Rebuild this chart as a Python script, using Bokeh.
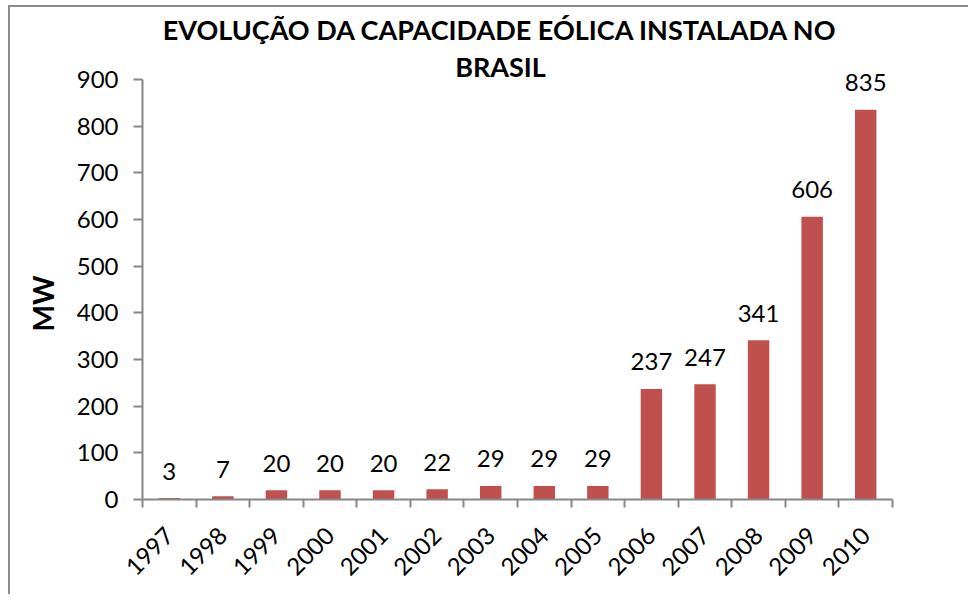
import math
from bokeh.plotting import figure
from bokeh.models import FixedTicker, Label, ColumnDataSource, Range1d, Title
from bokeh.core.properties import value
from bokeh.embed import file_html
from bokeh.resources import INLINE

years = ["1997", "1998", "1999", "2000", "2001", "2002", "2003", "2004",
         "2005", "2006", "2007", "2008", "2009", "2010"]
mw = [3, 7, 20, 20, 20, 22, 29, 29, 29, 237, 247, 341, 606, 835]
y_ticks = [0, 100, 200, 300, 400, 500, 600, 700, 800, 900]
title_line1 = "EVOLUÇÃO DA CAPACIDADE EÓLICA INSTALADA NO"
title_line2 = "BRASIL"
y_label = "MW"

FONT = "Lato"
BAR = "#C0504D"
AXIS = "#868686"

# frame: value 0 at 492px from figure top, 900 at 72px -> 420px per 900
FRAME_H = 492
y_top = y_ticks[-1] * FRAME_H / 420.0

centers = [i + 0.5 for i in range(len(years))]
src = ColumnDataSource(dict(x=centers, top=mw, lbl=[str(v) for v in mw]))

p = figure(width=960, height=589, output_backend="svg", toolbar_location=None,
           x_range=Range1d(0, len(years)), y_range=Range1d(0, y_top),
           min_border_left=132, min_border_right=78, min_border_top=0,
           min_border_bottom=589 - FRAME_H)
p.title.visible = False
p.outline_line_color = None
p.grid.grid_line_color = None
p.styles = {"border-left": "2px solid #8c8c8c", "border-top": "2px solid #8c8c8c",
            "margin-left": "8px", "margin-top": "5px"}

p.vbar(x="x", top="top", bottom=0, width=0.4, source=src, color=BAR, line_color=None)
p.text(x="x", y="top", text="lbl", source=src, text_align="center",
       text_baseline="alphabetic", y_offset=-27, text_font=value(FONT),
       text_font_size="24px", text_color="black")

xa = p.xaxis[0]
xa.ticker = FixedTicker(ticks=centers, minor_ticks=list(range(len(years) + 1)))
xa.major_label_overrides = {c: y for c, y in zip(centers, years)}
xa.major_label_orientation = math.pi / 4
xa.major_tick_out = 0
xa.major_tick_in = 0
xa.minor_tick_out = 8
xa.minor_tick_in = 0
xa.minor_tick_line_color = AXIS
xa.axis_line_color = AXIS
xa.axis_line_width = 2
xa.minor_tick_line_width = 2
xa.major_label_text_font = FONT
xa.major_label_text_font_size = "24px"
xa.major_label_text_color = "black"
xa.major_label_standoff = 24

ya = p.yaxis[0]
ya.bounds = (y_ticks[0], y_ticks[-1])
ya.ticker = FixedTicker(ticks=y_ticks, minor_ticks=[])
ya.major_tick_out = 9
ya.major_tick_in = 0
ya.major_tick_line_color = AXIS
ya.major_tick_line_width = 2
ya.axis_line_color = AXIS
ya.axis_line_width = 2
ya.major_label_text_font = FONT
ya.major_label_text_font_size = "24px"
ya.major_label_text_color = "black"
ya.major_label_standoff = 15

p.add_layout(Title(text=y_label, align="left", offset=168, standoff=27,
                   text_font=FONT, text_font_size="28px", text_font_style="bold",
                   text_color="black"), "left")

for txt, yy in ((title_line1, 470), (title_line2, 433)):
    p.add_layout(Label(x=358, y=yy, x_units="screen", y_units="screen", text=txt,
                       text_align="center", text_baseline="middle",
                       text_font=FONT, text_font_size="27px",
                       text_font_style="bold", text_color="black"))

open("out.html", "w").write(file_html(p, INLINE))
